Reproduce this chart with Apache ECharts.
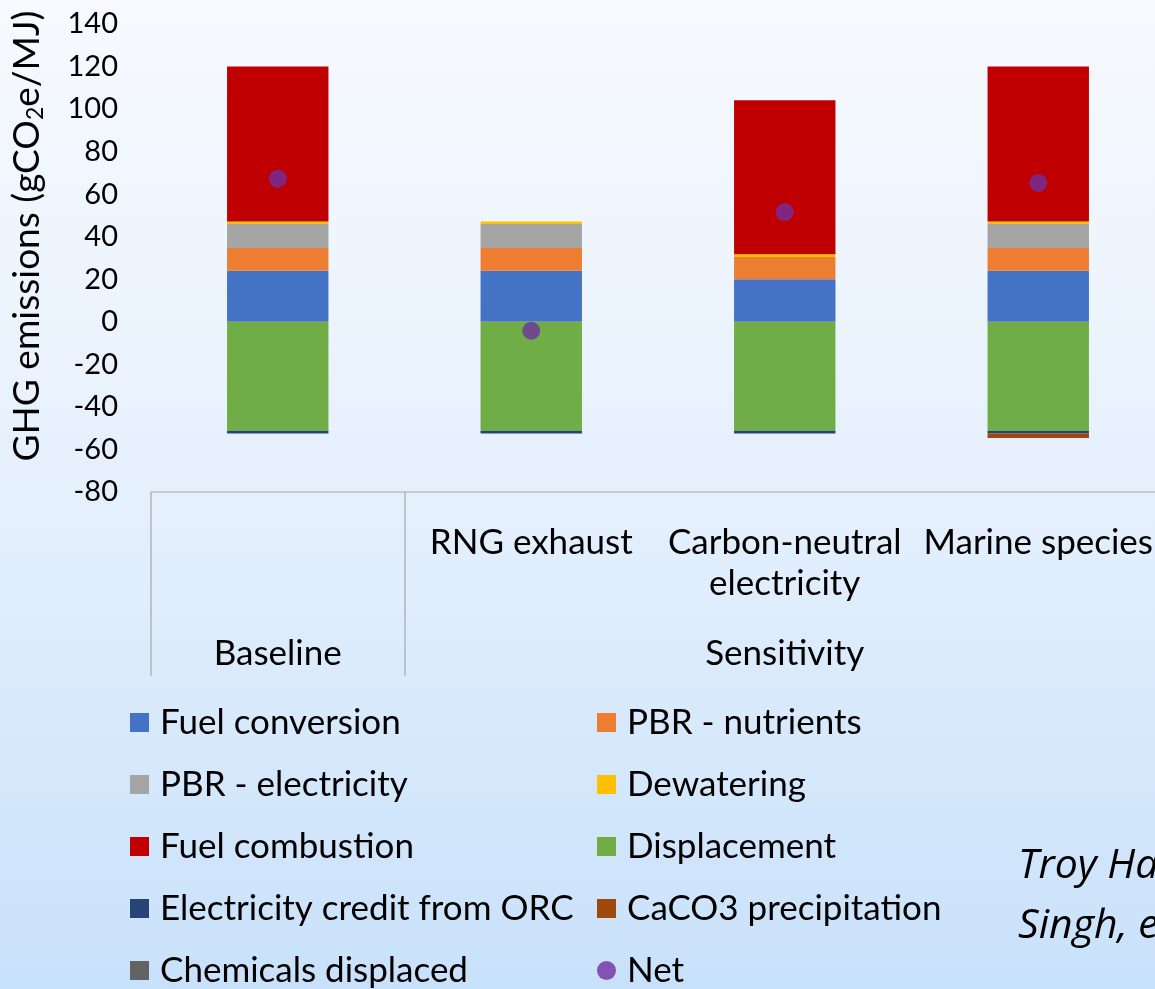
<!DOCTYPE html>
<html>
<head>
<meta charset="utf-8">
<script src="https://cdn.jsdelivr.net/npm/echarts@6/dist/echarts.min.js"></script>
<style>
  html, body { margin: 0; padding: 0; }
  #chart { width: 1155px; height: 989px; }
</style>
</head>
<body>
<div id="chart"></div>
<script>
// Scenario labels (first level) and group labels (second level)
const scenarioLabels = ['', 'RNG exhaust', 'Carbon-neutral\nelectricity', 'Marine species'];
const groupLabels = ['Baseline', '', 'Sensitivity', ''];

// Emission contributions, gCO2e/MJ
const fuelConversion     = [24.0, 24.0, 20.0, 24.0];
const pbrNutrients       = [10.7, 10.7, 10.5, 10.7];
const pbrElectricity     = [11.3, 11.3, 0, 11.3];
const dewatering         = [1.2, 1.2, 1.3, 1.2];
const fuelCombustion     = [72.8, 0, 72.3, 72.8];
const displacement       = [-51.2, -51.2, -51.2, -51.2];
const orcCredit          = [-1.3, -1.3, -1.3, -1.3];
const caco3Precipitation = [0, 0, 0, -2.1];
const chemicalsDisplaced = [0, 0, 0, 0];
const netEmissions       = [67.3, -4.2, 51.6, 65.3];

// Y-axis range
const yMin = -80, yMax = 140, yStep = 20;

const FONT = 'Lato';

const barSeries = [
  ['Fuel conversion', fuelConversion, '#4472C4'],
  ['PBR - nutrients', pbrNutrients, '#ED7D31'],
  ['PBR - electricity', pbrElectricity, '#A5A5A5'],
  ['Dewatering', dewatering, '#FFC000'],
  ['Fuel combustion', fuelCombustion, '#C00000'],
  ['Displacement', displacement, '#70AD47'],
  ['Electricity credit from ORC', orcCredit, '#264478'],
  ['CaCO3 precipitation', caco3Precipitation, '#9E480E'],
  ['Chemicals displaced', chemicalsDisplaced, '#636363']
].map(([name, data, color]) => ({
  name, type: 'bar', stack: 'total', data,
  barCategoryGap: '60%',
  itemStyle: { color },
  emphasis: { disabled: true }
}));

const series = barSeries.concat([{
  name: 'Net', type: 'scatter', data: netEmissions,
  symbol: 'circle', symbolSize: 18, z: 5,
  itemStyle: { color: '#7030A0' },
  emphasis: { disabled: true }
}]);

const legendText = { fontFamily: FONT, fontSize: 35, color: '#000', lineHeight: 34, padding: [0, 0, 0, 6] };

const chart = echarts.init(document.getElementById('chart'), null, { renderer: 'canvas' });
chart.setOption({
  animation: false,
  backgroundColor: {
    type: 'linear', x: 0, y: 0, x2: 0, y2: 1,
    colorStops: [
      { offset: 0, color: '#f7fafe' },
      { offset: 0.5, color: '#e5f0fd' },
      { offset: 1, color: '#c8e1fa' }
    ]
  },
  grid: { left: 151, right: -10, top: 24, bottom: 497, outerBoundsMode: 'none' },
  legend: [{
    orient: 'vertical', left: 130, top: 705, height: 300, padding: 0, itemGap: 27,
    itemWidth: 19, itemHeight: 19, selectedMode: false,
    data: ['Fuel conversion', 'PBR - electricity', 'Fuel combustion',
           'Electricity credit from ORC', 'Chemicals displaced'].map(n => ({ name: n, icon: 'rect' })),
    textStyle: legendText
  }, {
    orient: 'vertical', left: 597, top: 705, height: 300, padding: 0, itemGap: 27,
    itemWidth: 19, itemHeight: 19, selectedMode: false,
    data: ['PBR - nutrients', 'Dewatering', 'Displacement', 'CaCO3 precipitation']
      .map(n => ({ name: n, icon: 'rect' }))
      .concat([{ name: 'Net', icon: 'circle' }]),
    textStyle: legendText
  }],
  xAxis: [{
    type: 'category', data: scenarioLabels, position: 'bottom',
    axisLine: { show: true, onZero: false, lineStyle: { color: '#bdbdbd', width: 1.5 } },
    axisTick: { show: false },
    axisLabel: { interval: 0, margin: 30, fontFamily: FONT, fontSize: 35, lineHeight: 41, color: '#000' }
  }, {
    type: 'category', data: groupLabels, position: 'bottom',
    axisLine: { show: false, onZero: false },
    axisTick: {
      show: true, length: 184,
      interval: (index) => index <= 1,
      lineStyle: { color: '#b5b5b5', width: 1.5 }
    },
    axisLabel: { interval: 0, margin: 144, fontFamily: FONT, fontSize: 35, color: '#000' }
  }],
  yAxis: {
    type: 'value', min: yMin, max: yMax, interval: yStep,
    axisLine: { show: false }, axisTick: { show: false },
    splitLine: { show: false },
    axisLabel: { margin: 33, fontFamily: FONT, fontSize: 29, color: '#000' },
    name: 'GHG emissions (gCO{sub|2}e/MJ)',
    nameLocation: 'middle', nameGap: 104,
    nameTextStyle: {
      fontFamily: FONT, fontSize: 37, color: '#000', lineHeight: 40,
      padding: [0, 0, 0, 44],
      rich: { sub: { fontFamily: FONT, fontSize: 23, lineHeight: 23, verticalAlign: 'bottom', color: '#000' } }
    }
  },
  graphic: [{
    type: 'text', left: 1018, top: 846,
    style: { text: 'Troy Hawkins', fontFamily: 'Open Sans', fontStyle: 'italic', fontSize: 41, fill: '#000' }
  }, {
    type: 'text', left: 1018, top: 906,
    style: { text: 'Singh, et al.', fontFamily: 'Open Sans', fontStyle: 'italic', fontSize: 41, fill: '#000' }
  }],
  series
});
</script>
</body>
</html>
